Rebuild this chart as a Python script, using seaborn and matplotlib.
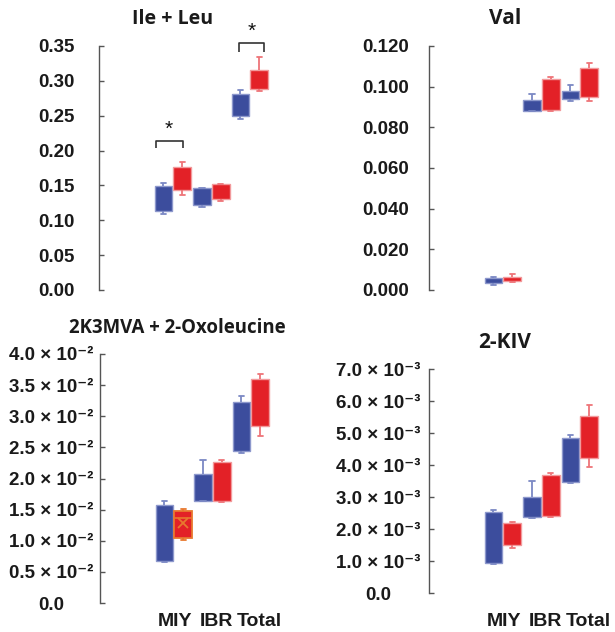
import numpy as np
import pandas as pd
import matplotlib
matplotlib.use("Agg")
import matplotlib.pyplot as plt
import seaborn as sns

# ---- data -----------------------------------------------------------------
groups = ["MIY", "IBR", "Total"]
series = ["ctrl", "test"]

# each box: [min, q1, median, q3, max]
ile_leu_ctrl = [[0.109, 0.1138, 0.131, 0.1497, 0.153],
                [0.1186, 0.1214, 0.134, 0.1458, 0.1468],
                [0.2453, 0.2500, 0.266, 0.2816, 0.2874]]
ile_leu_test = [[0.1358, 0.1439, 0.160, 0.1764, 0.1836],
                [0.1277, 0.1305, 0.141, 0.1520, 0.1525],
                [0.2850, 0.2878, 0.302, 0.3160, 0.3347]]

val_ctrl = [[0.0026, 0.0036, 0.0047, 0.0058, 0.0064],
            [0.0879, 0.0882, 0.0908, 0.0934, 0.0964],
            [0.0931, 0.0938, 0.0958, 0.0979, 0.1010]]
val_test = [[0.0038, 0.0046, 0.0055, 0.0064, 0.0077],
            [0.0879, 0.0887, 0.0962, 0.1038, 0.1049],
            [0.0931, 0.0948, 0.1019, 0.1090, 0.1115]]

oxo_ctrl = [[0.00666, 0.00677, 0.01125, 0.01573, 0.01638],
            [0.01638, 0.01643, 0.01857, 0.02072, 0.02303],
            [0.02405, 0.02443, 0.02837, 0.03232, 0.03318]]
oxo_test = [[0.01009, 0.01047, 0.01358, 0.01471, 0.01503],
            [0.01616, 0.01643, 0.01951, 0.02260, 0.02293],
            [0.02690, 0.02851, 0.03224, 0.03597, 0.03678]]

kiv_ctrl = [[0.000917, 0.000938, 0.001734, 0.002531, 0.002594],
            [0.002333, 0.002365, 0.002687, 0.003010, 0.003500],
            [0.003427, 0.003458, 0.004156, 0.004854, 0.004927]]
kiv_test = [[0.001406, 0.001490, 0.001839, 0.002188, 0.002219],
            [0.002375, 0.002396, 0.003047, 0.003698, 0.003750],
            [0.003927, 0.004208, 0.004865, 0.005521, 0.005885]]

ile_ticks = [0.00, 0.05, 0.10, 0.15, 0.20, 0.25, 0.30, 0.35]
ile_labels = ["0.00", "0.05", "0.10", "0.15", "0.20", "0.25", "0.30", "0.35"]
val_ticks = [0.0, 0.02, 0.04, 0.06, 0.08, 0.10, 0.12]
val_labels = ["0.000", "0.020", "0.040", "0.060", "0.080", "0.100", "0.120"]
oxo_ticks = [0.0, 0.005, 0.010, 0.015, 0.020, 0.025, 0.030, 0.035, 0.040]
oxo_mant = ["0.5", "1.0", "1.5", "2.0", "2.5", "3.0", "3.5", "4.0"]
kiv_ticks = [0.0, 0.001, 0.002, 0.003, 0.004, 0.005, 0.006, 0.007]
kiv_mant = ["1.0", "2.0", "3.0", "4.0", "5.0", "6.0", "7.0"]

titles = ["Ile + Leu", "Val", "2K3MVA + 2-Oxoleucine", "2-KIV"]

# ---- style ----------------------------------------------------------------
sns.set_style("white")
plt.rcParams["font.family"] = ["Liberation Sans", "DejaVu Sans"]

face = {"ctrl": "#3C4D9D", "test": "#E32127"}
edge = {"ctrl": "#8D98CC", "test": "#F29A9C"}
whisk = {"ctrl": "#7B88C4", "test": "#EE7478"}
HIGHLIGHT = "#E8782E"
AXIS_GREY = "#555555"
TEXT = "#1a1a1a"
SUP = {"2": "\u00b2", "3": "\u00b3"}


def sci_labels(mant, exp):
    return ["0.0"] + ["%s \u00d7 10\u207b%s" % (m, SUP[str(exp)]) for m in mant]


def to_frame(a, b):
    rows = []
    for name, boxes in zip(series, (a, b)):
        for g, vals in zip(groups, boxes):
            for v in vals:
                rows.append((g, name, v))
    return pd.DataFrame(rows, columns=["group", "series", "value"])


def shrink_caps(cont, frac=0.6):
    for cap in cont.caps:
        x = np.asarray(cap.get_xdata(), dtype=float)
        c = x.mean()
        cap.set_xdata(c + (x - c) * frac)


def draw_panel(ax, a, b, ticks, labels, pad):
    df = to_frame(a, b)
    sns.boxplot(data=df, x="group", y="value", hue="series",
                order=groups, hue_order=series, palette=face, saturation=1,
                width=0.98, gap=0.06, whis=np.inf, linewidth=1.0,
                showmeans=True, meanprops={"visible": False},
                medianprops={"visible": False}, legend=False, ax=ax)
    for name, cont in zip(series, ax.containers):
        for box in cont.boxes:
            box.set_edgecolor(edge[name])
        for ln in list(cont.whiskers) + list(cont.caps):
            ln.set_color(whisk[name])
            ln.set_linewidth(1.3)
        shrink_caps(cont)
    ax.set_xlim(-1.92, 2.6)
    ax.set_ylim(ticks[0], ticks[-1])
    ax.set_yticks(ticks)
    ax.set_yticklabels(labels)
    for lbl in ax.get_yticklabels():
        lbl.set_ha("center")
        lbl.set_fontweight("bold")
    ax.tick_params(axis="y", left=True, direction="in", length=3.5, width=1,
                   color=AXIS_GREY, labelsize=13.5, labelcolor=TEXT, pad=pad)
    ax.set_xlabel("")
    ax.set_ylabel("")
    sns.despine(ax=ax, bottom=True)
    ax.spines["left"].set_color(AXIS_GREY)
    ax.spines["left"].set_linewidth(1.0)


W, H = 615, 632
fig = plt.figure(figsize=(W / 100, H / 100), dpi=100)


def px_axes(x0, y_top, y_bot):
    return fig.add_axes([x0 / W, (H - y_bot) / H, 174 / W, (y_bot - y_top) / H])


ax1 = px_axes(99, 46, 290)
ax2 = px_axes(429, 46, 290)
ax3 = px_axes(100, 354, 603)
ax4 = px_axes(429, 369, 593)

draw_panel(ax1, ile_leu_ctrl, ile_leu_test, ile_ticks, ile_labels, 31)
draw_panel(ax2, val_ctrl, val_test, val_ticks, val_labels, 31)
draw_panel(ax3, oxo_ctrl, oxo_test, oxo_ticks, sci_labels(oxo_mant, 2), 35)
draw_panel(ax4, kiv_ctrl, kiv_test, kiv_ticks, sci_labels(kiv_mant, 3), 36.5)

# highlighted MIY box of the second series in the 2K3MVA panel
hl = ax3.containers[1]
hl.boxes[0].set_edgecolor(HIGHLIGHT)
hl.boxes[0].set_linewidth(1.3)
for ln in list(hl.whiskers[:2]) + list(hl.caps[:2]):
    ln.set_color(HIGHLIGHT)
hl.medians[0].set_visible(True)
hl.medians[0].set_color(HIGHLIGHT)
hl.medians[0].set_linewidth(1.2)
hl.means[0].set_visible(True)
hl.means[0].set_marker("x")
hl.means[0].set_markeredgecolor(HIGHLIGHT)
hl.means[0].set_markersize(7)
hl.means[0].set_markeredgewidth(1.3)

# x tick labels on the bottom row only
for ax, pad in ((ax1, 0), (ax2, 0), (ax3, 7.5), (ax4, 14.5)):
    ax.set_xticks([0.04, 1.1, 2.22])
    ax.set_xticklabels(groups if pad else ["", "", ""])
    ax.tick_params(axis="x", length=0, pad=pad, labelsize=14,
                   labelcolor=TEXT)
    for lbl in ax.get_xticklabels():
        lbl.set_fontweight("bold")

# significance brackets
bracket = dict(color="#333333", lw=1.2, clip_on=False, solid_capstyle="butt")
ax1.plot([-0.44, -0.44, 0.26, 0.26], [0.2037, 0.2137, 0.2137, 0.2037], **bracket)
ax1.text(-0.1, 0.2175, "*", ha="center", va="bottom", fontsize=15, color="#111111")
ax1.plot([1.71, 1.71, 2.36, 2.36], [0.341, 0.354, 0.354, 0.341], **bracket)
ax1.text(2.05, 0.358, "*", ha="center", va="bottom", fontsize=15, color="#111111")

# panel titles
title_kw = dict(ha="center", va="center", fontweight="bold",
                family=["Open Sans", "DejaVu Sans"], color=TEXT)
fig.text(173 / W, 1 - 19 / H, titles[0], fontsize=14, **title_kw)
fig.text(505 / W, 1 - 19 / H, titles[1], fontsize=15, **title_kw)
fig.text(177 / W, 1 - 328 / H, titles[2], fontsize=13.4, **title_kw)
fig.text(505 / W, 1 - 342 / H, titles[3], fontsize=15, **title_kw)

fig.savefig("out.png", dpi=100)
